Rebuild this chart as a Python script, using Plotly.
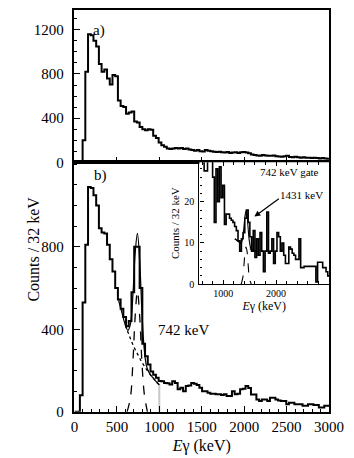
"""Gamma spectra: total projection (a) and 742 keV gated spectrum (b) with inset."""

import plotly.graph_objects as go

FONT = "Liberation Serif, serif"
BIN_WIDTH = 32

# panel a) counts per 32 keV bin, first bin starts at 0 keV
A_COUNTS = [0, 0, 0, 200, 820, 1160, 1150, 1100, 1050, 890, 820, 840, 760, 705,
            790, 780, 560, 510, 500, 440, 450, 460, 370, 360, 320, 300, 290, 300,
            295, 240, 220, 180, 155, 140, 125, 120, 125, 130, 125, 130, 120, 125,
            115, 110, 105, 110, 100, 98, 110, 105, 100, 95, 92, 95, 90, 88, 92, 85,
            88, 90, 85, 90, 92, 88, 82, 70, 65, 62, 60, 65, 62, 60, 58, 62, 55, 52,
            50, 55, 58, 48, 45, 50, 45, 42, 45, 40, 42, 38, 40, 38, 35, 38, 35, 32]

# panel b) counts per 32 keV bin, first bin starts at 0 keV
B_COUNTS = [0, 0, 80, 530, 810, 1090, 1085, 1050, 1000, 890, 870, 865, 810, 740,
            680, 600, 545, 500, 460, 415, 440, 580, 800, 800, 600, 330, 270, 230,
            195, 180, 165, 150, 148, 140, 138, 132, 148, 140, 109, 117, 100, 125,
            128, 140, 136, 130, 117, 100, 100, 92, 88, 88, 85, 85, 82, 85, 77, 77,
            100, 85, 88, 109, 112, 125, 116, 84, 84, 60, 52, 60, 60, 52, 68, 68,
            60, 55, 52, 52, 37, 44, 44, 37, 37, 37, 29, 29, 37, 37, 33, 33, 21, 21,
            29, 29]

# 742 keV peak fit in panel b)
FIT_E = [520, 560, 600, 630, 660, 690, 715, 742, 770, 795, 820, 850, 880, 920, 960, 1000]
FIT_TOTAL = [540, 480, 420, 395, 425, 575, 765, 865, 720, 485, 315, 220, 190, 168, 148, 131]
GAUSS_E = [620, 660, 690, 715, 742, 770, 795, 825, 860]
GAUSS_Y = [0, 70, 250, 460, 585, 455, 240, 80, 0]
BKG_E = [600, 650, 700, 750, 800, 850, 900, 950, 1000]
BKG_Y = [420, 365, 315, 275, 237, 205, 176, 152, 131]
GATE_EDGE_E = [1000, 1000]
GATE_EDGE_Y = [0, 135]

# inset: 742 keV gate, bins start at 544 keV
INSET_START = 544
INSET_COUNTS = [38, 36, 33, 27.5, 27.5, 34, 32, 30, 26, 15, 28, 20, 28.5, 21, 24,
                14.5, 17, 17, 16, 15.5, 15, 14, 13, 10.5, 8, 11, 12.5, 16, 18, 15,
                11.5, 8, 13, 6.5, 11, 7, 12.5, 8, 3, 8, 17.5, 7.5, 8, 11, 5, 8,
                12.5, 11.5, 8, 10, 7, 5, 5, 9, 8.5, 7.5, 7, 6, 6, 11, 4, 4, 4.3,
                4.3, 4.3, 4.3, 4.3, 4.3, 4.3, 0.5, 5.3, 5.3, 5.3, 4, 4, 3, 2]
IN_FIT_E = [1220, 1300, 1340, 1370, 1395, 1415, 1431, 1450, 1470, 1495, 1530, 1580, 1620]
IN_FIT_Y = [11, 10.3, 10.0, 11.2, 14.3, 16.8, 17.8, 16.8, 13.8, 10.4, 8.5, 8.2, 8.0]
IN_GAUSS_E = [1340, 1370, 1395, 1415, 1431, 1450, 1470, 1495, 1530]
IN_GAUSS_Y = [0, 1.5, 5, 8, 9, 8, 5, 1.5, 0]
IN_BKG_E = [1220, 1300, 1380, 1460, 1540, 1620]
IN_BKG_Y = [11, 10.2, 9.5, 8.9, 8.4, 8.0]


def _steps(start, counts):
    edges = [start + BIN_WIDTH * i for i in range(len(counts) + 1)]
    return edges, list(counts) + [counts[-1]]


def _hist(start, counts, xa, ya, width=2):
    x, y = _steps(start, counts)
    return go.Scatter(x=x, y=y, mode="lines", line=dict(color="black", width=width, shape="hv"),
                      xaxis=xa, yaxis=ya, showlegend=False, hoverinfo="skip")


def _curve(x, y, xa, ya, dash="solid", width=1):
    return go.Scatter(x=x, y=y, mode="lines",
                      line=dict(color="black", width=width, dash=dash, shape="spline"),
                      xaxis=xa, yaxis=ya, showlegend=False, hoverinfo="skip")


fig = go.Figure()
fig.add_trace(_hist(0, A_COUNTS, "x", "y"))
fig.add_trace(go.Scatter(x=GATE_EDGE_E, y=GATE_EDGE_Y, mode="lines",
                         line=dict(color="#c8c8c8", width=2), xaxis="x2", yaxis="y2",
                         showlegend=False, hoverinfo="skip"))
fig.add_trace(_hist(0, B_COUNTS, "x2", "y2"))
fig.add_trace(_curve(FIT_E, FIT_TOTAL, "x2", "y2", width=1.2))
fig.add_trace(_curve(GAUSS_E, GAUSS_Y, "x2", "y2", dash="dash", width=1.3))
fig.add_trace(_curve(BKG_E, BKG_Y, "x2", "y2", dash="dot", width=1.3))
fig.add_trace(_hist(INSET_START, INSET_COUNTS, "x3", "y3", width=1.6))
fig.add_trace(_curve(IN_FIT_E, IN_FIT_Y, "x3", "y3", width=1.1))
fig.add_trace(_curve(IN_GAUSS_E, IN_GAUSS_Y, "x3", "y3", dash="dash", width=1.1))
fig.add_trace(_curve(IN_BKG_E, IN_BKG_Y, "x3", "y3", dash="dash", width=1.1))

W, H = 354, 458
tick_font = dict(family=FONT, size=15, color="black")
minor_x = dict(ticks="inside", dtick=100, ticklen=3, tickcolor="black", tickwidth=1)
minor_y = dict(ticks="inside", dtick=100, ticklen=3, tickcolor="black", tickwidth=1)
axis_common = dict(showline=True, linecolor="black", linewidth=1.5, mirror=True,
                   ticks="inside", ticklen=6, tickcolor="black", tickwidth=1,
                   showgrid=False, zeroline=False, tickfont=tick_font)

x_dom = [66 / W, 335 / W]
fig.update_layout(
    width=W, height=H, margin=dict(l=0, r=0, t=0, b=0),
    paper_bgcolor="white", plot_bgcolor="white",
    font=dict(family=FONT, color="black"),
    xaxis=dict(domain=x_dom, range=[0, 3000], anchor="y", tick0=0, dtick=500,
               showticklabels=False, minor=minor_x, **axis_common),
    yaxis=dict(domain=[301 / H, 456 / H], range=[0, 1380], anchor="x",
               tickvals=[0, 400, 800, 1200], minor=minor_y, ticklabelstandoff=6,
               **axis_common),
    xaxis2=dict(domain=x_dom, range=[0, 3000], anchor="y2", tick0=0, dtick=500,
                minor=minor_x,
                title=dict(text="<i>E</i>γ (keV)", font=dict(family=FONT, size=16), standoff=6),
                **axis_common),
    yaxis2=dict(domain=[47 / H, 301 / H], range=[0, 1210], anchor="x2",
                tickvals=[0, 400, 800], minor=minor_y, ticklabelstandoff=6,
                **axis_common),
    xaxis3=dict(domain=[198 / W, 335 / W], range=[550, 3000], anchor="y3",
                showline=True, linecolor="black", linewidth=1.3, mirror="ticks",
                ticks="inside", ticklen=4, tickcolor="black", tickvals=[1000, 2000],
                minor=dict(ticks="inside", tick0=0, dtick=200, ticklen=2.5, tickcolor="black"),
                showgrid=False, zeroline=False,
                tickfont=dict(family=FONT, size=10, color="black"),
                title=dict(text="<i>E</i>γ (keV)", font=dict(family=FONT, size=12), standoff=2)),
    yaxis3=dict(domain=[177 / H, 301 / H], range=[0, 29.6], anchor="x3",
                showline=True, linecolor="black", linewidth=1.3,
                ticks="inside", ticklen=4, tickcolor="black", dtick=10,
                minor=dict(ticks="inside", dtick=2, ticklen=2.5, tickcolor="black"),
                showgrid=False, zeroline=False, ticklabelstandoff=2,
                tickfont=dict(family=FONT, size=10, color="black"),
                title=dict(text="Counts / 32 keV", font=dict(family=FONT, size=11), standoff=2)),
)

fig.add_annotation(text="Counts / 32 keV", xref="paper", yref="paper", x=12 / W, y=0.465,
                   textangle=-90, showarrow=False, font=dict(family=FONT, size=16))
fig.add_annotation(text="a)", xref="paper", yref="paper", x=84 / W, y=(H - 12) / H,
                   showarrow=False, font=dict(family=FONT, size=15))
fig.add_annotation(text="b)", xref="paper", yref="paper", x=85 / W, y=(H - 170) / H,
                   showarrow=False, font=dict(family=FONT, size=15))
fig.add_annotation(text="742 keV", xref="x2", yref="y2", x=1285, y=395,
                   showarrow=False, font=dict(family=FONT, size=15))
fig.add_annotation(text="742 keV gate", xref="x3", yref="y3", x=2250, y=27.2,
                   showarrow=False, font=dict(family=FONT, size=11))
fig.add_annotation(text="1431 keV", xref="x3", yref="y3", x=2480, y=21.7,
                   showarrow=False, font=dict(family=FONT, size=11))
fig.add_annotation(text="", xref="x3", yref="y3", x=1589, y=16.4, ax=26, ay=-19,
                   showarrow=True, arrowhead=2, arrowsize=1, arrowwidth=1.2,
                   arrowcolor="black")

fig.write_html("out.html")
